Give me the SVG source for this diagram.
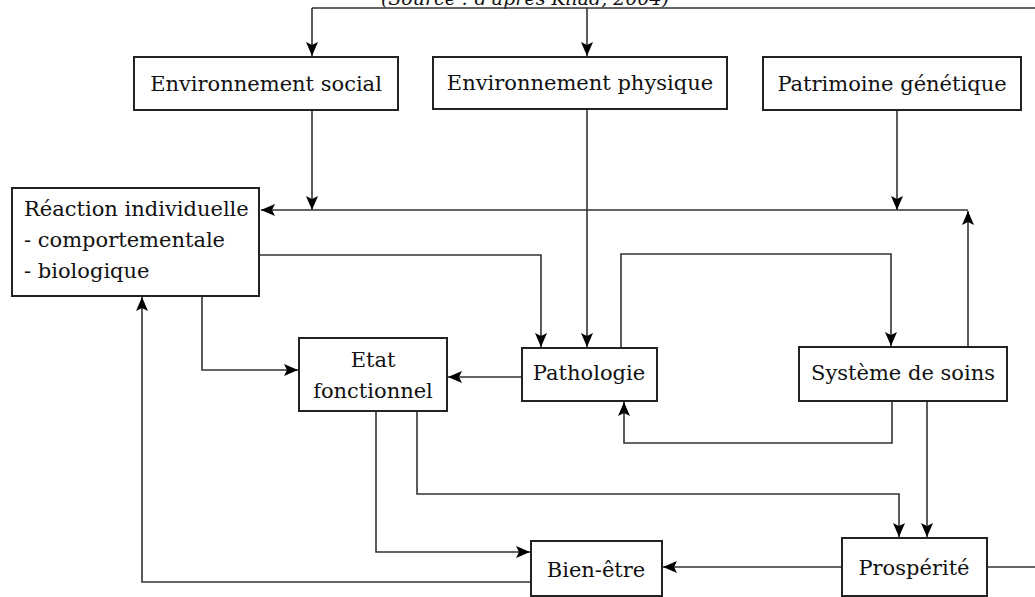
<svg xmlns="http://www.w3.org/2000/svg" width="1035" height="597" viewBox="0 0 1035 597">
<defs>
<marker id="arr" viewBox="0 0 14 12" refX="14" refY="6" markerWidth="14" markerHeight="12" markerUnits="userSpaceOnUse" orient="auto">
<path d="M0,0 L14,6 L0,12 L3,6 Z" fill="#000"/>
</marker>
<style>
.box{fill:#fff;stroke:#222;stroke-width:2}
.t{font-family:"DejaVu Serif","Liberation Serif",serif;font-size:21px;fill:#111;text-anchor:middle}
.tl{text-anchor:start}
.c{fill:none;stroke:#333;stroke-width:1.6}
.a{marker-end:url(#arr)}
</style>
</defs>
<rect width="1035" height="597" fill="#fff"/>
<text x="525" y="5" class="t" style="font-style:italic;font-size:19px">(Source : d'après Kliad, 2004)</text>
<g id="connectors">
<path class="c" d="M1035,8 H312"/>
<path class="c a" d="M312,8 V56"/>
<path class="c a" d="M587,8 V56"/>
<path class="c a" d="M312,110 V210"/>
<path class="c a" d="M897,110 V210"/>
<path class="c a" d="M968,210 H261"/>
<path class="c a" d="M968,347 V211"/>
<path class="c a" d="M587,109 V347"/>
<path class="c a" d="M260,255 H541 V347"/>
<path class="c a" d="M621,347 V254 H891 V346"/>
<path class="c a" d="M202,296 V370 H298"/>
<path class="c a" d="M522,377 H448"/>
<path class="c a" d="M892,401 V443 H624 V402"/>
<path class="c a" d="M927,401 V537"/>
<path class="c a" d="M417,411 V494 H899 V537"/>
<path class="c a" d="M376,411 V552 H530"/>
<path class="c a" d="M842,567 H663"/>
<path class="c" d="M987,567 H1035"/>
<path class="c a" d="M531,582 H142 V297"/>
</g>
<g id="env-social"><rect class="box" x="134" y="57" width="264" height="53"/><text class="t" x="266" y="91">Environnement social</text></g>
<g id="env-physique"><rect class="box" x="433" y="57" width="294" height="52"/><text class="t" x="580" y="90">Environnement physique</text></g>
<g id="patrimoine"><rect class="box" x="763" y="57" width="258" height="53"/><text class="t" x="892" y="91">Patrimoine génétique</text></g>
<g id="reaction"><rect class="box" x="12" y="188" width="247" height="108"/><text class="t tl" x="24" y="216">Réaction individuelle</text><text class="t tl" x="24" y="247">- comportementale</text><text class="t tl" x="24" y="278">- biologique</text></g>
<g id="etat"><rect class="box" x="299" y="338" width="148" height="73"/><text class="t" x="373" y="367">Etat</text><text class="t" x="373" y="398">fonctionnel</text></g>
<g id="pathologie"><rect class="box" x="522" y="348" width="135" height="53"/><text class="t" x="589" y="380">Pathologie</text></g>
<g id="systeme"><rect class="box" x="799" y="347" width="208" height="54"/><text class="t" x="903" y="380">Système de soins</text></g>
<g id="prosperite"><rect class="box" x="842" y="538" width="145" height="58"/><text class="t" x="914" y="575">Prospérité</text></g>
<g id="bienetre"><rect class="box" x="531" y="541" width="131" height="55"/><text class="t" x="596" y="577">Bien-être</text></g>
</svg>
